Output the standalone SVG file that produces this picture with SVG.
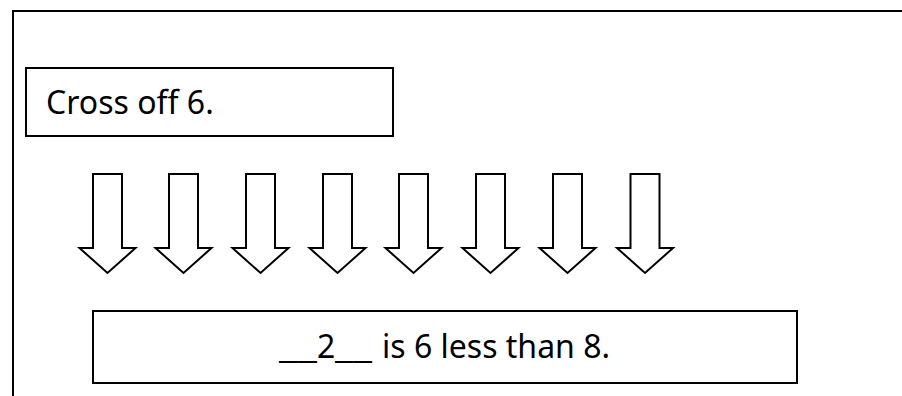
<svg xmlns="http://www.w3.org/2000/svg" width="902" height="396" viewBox="0 0 902 396">
<style>
.box{fill:#fff;stroke:#000;stroke-width:2}
.arr{fill:#fff;stroke:#000;stroke-width:2;stroke-linejoin:miter}
.t{font-family:"Noto Sans","Open Sans",sans-serif;font-size:32px;fill:#000}
</style>
<defs>
<path id="ar" d="M-14.5,0 H14.5 V74 H28 L0,99 L-28,74 H-14.5 Z"/>
</defs>
<rect width="902" height="396" fill="#fff"/>
<g id="frame"><path d="M13,396 V11 H902" fill="none" stroke="#000" stroke-width="2"/></g>
<g id="top-box"><rect class="box" x="26" y="68" width="367" height="68"/><text class="t" x="46" y="114">Cross off 6.</text></g>
<g id="connectors">
<use href="#ar" class="arr" x="107.5" y="174"/>
<use href="#ar" class="arr" x="183.5" y="174"/>
<use href="#ar" class="arr" x="260.5" y="174"/>
<use href="#ar" class="arr" x="337.5" y="174"/>
<use href="#ar" class="arr" x="413.5" y="174"/>
<use href="#ar" class="arr" x="490.5" y="174"/>
<use href="#ar" class="arr" x="567.5" y="174"/>
<use href="#ar" class="arr" x="645" y="174"/>
</g>
<g id="bottom-box"><rect class="box" x="93" y="311" width="704" height="72"/><text class="t" y="358"><tspan x="279" textLength="38" lengthAdjust="spacingAndGlyphs">__</tspan><tspan x="317">2</tspan><tspan x="335" textLength="37" lengthAdjust="spacingAndGlyphs">__</tspan><tspan x="382">is 6 less than 8.</tspan></text></g>
</svg>
